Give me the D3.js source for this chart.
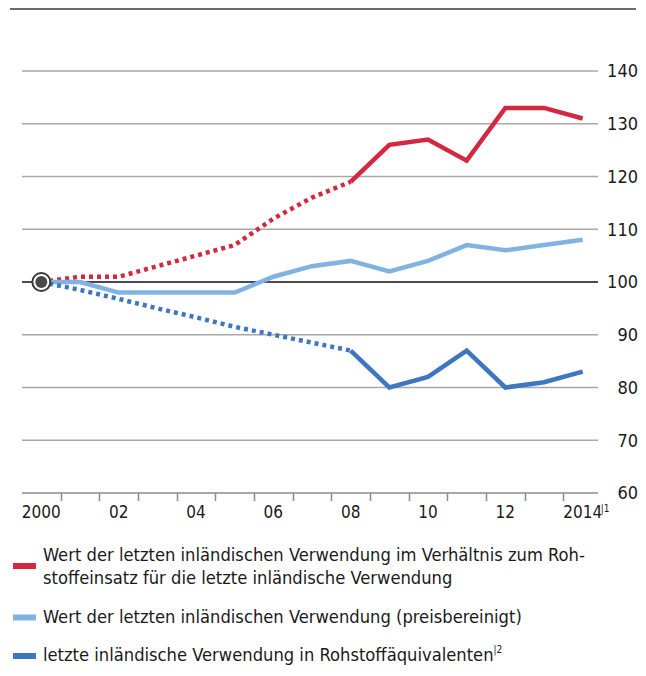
<!DOCTYPE html>
<html>
<head>
<meta charset="utf-8">
<script src="https://cdn.jsdelivr.net/npm/d3@7"></script>
<style>
  body { margin: 0; background: #fff; }
  svg { display: block; font-family: "DejaVu Sans Condensed", "DejaVu Sans", sans-serif; }
</style>
</head>
<body>
<div id="chart"></div>
<script>
// years 2000..2014
const years = d3.range(2000, 2015);
const xLabels = ["2000", "", "02", "", "04", "", "06", "", "08", "", "10", "", "12", "", "2014"];
const yTicks = [60, 70, 80, 90, 100, 110, 120, 130, 140];

// Wert der letzten inländischen Verwendung im Verhältnis zum Rohstoffeinsatz
const redValues = [100, 101, 101, 103, 105, 107, 112, 116, 119, 126, 127, 123, 133, 133, 131];
// Wert der letzten inländischen Verwendung (preisbereinigt)
const lightValues = [100, 100, 98, 98, 98, 98, 101, 103, 104, 102, 104, 107, 106, 107, 108];
// letzte inländische Verwendung in Rohstoffäquivalenten
const darkValues = [100, 98.5, 96.8, 95, 93.3, 91.5, 90, 88.5, 87, 80, 82, 87, 80, 81, 83];

const dottedUntil = 2008; // estimated years drawn dotted

const legendItems = [
  { color: "#d3283f", lines: ["Wert der letzten inländischen Verwendung im Verhältnis zum Roh-", "stoffeinsatz für die letzte inländische Verwendung"] },
  { color: "#80b3e2", lines: ["Wert der letzten inländischen Verwendung (preisbereinigt)"] },
  { color: "#3e76c0", lines: ["letzte inländische Verwendung in Rohstoffäquivalenten"], note: "|2" }
];

const width = 646, height = 676;

const svg = d3.select("#chart").append("svg")
    .attr("width", width)
    .attr("height", height);

const x = d3.scaleBand().domain(years).range([22, 602]);
const y = d3.scaleLinear().domain([60, 140]).range([493, 71]);
const cx = d => x(d) + x.bandwidth() / 2;

// top rule
svg.append("line")
    .attr("x1", 10).attr("x2", 636)
    .attr("y1", 9).attr("y2", 9)
    .attr("stroke", "#6b6b6b").attr("stroke-width", 2);

// gridlines
svg.append("g").selectAll("line")
    .data(yTicks)
    .join("line")
    .attr("x1", 22).attr("x2", 598)
    .attr("y1", d => y(d)).attr("y2", d => y(d))
    .attr("stroke", d => d === 100 ? "#4a4a4a" : "#a8a8a8")
    .attr("stroke-width", d => d === 100 ? 2 : (d === 60 ? 2 : 1.5));

// y labels
svg.append("g").selectAll("text")
    .data(yTicks)
    .join("text")
    .attr("x", 638)
    .attr("y", d => y(d))
    .attr("dy", "0.36em")
    .attr("text-anchor", "end")
    .attr("font-size", 18)
    .attr("fill", "#1a1a1a")
    .text(d => d);

// x ticks between years
svg.append("g").selectAll("line")
    .data(years.slice(1))
    .join("line")
    .attr("x1", d => Math.round(x(d)) + 0.5).attr("x2", d => Math.round(x(d)) + 0.5)
    .attr("y1", y(60)).attr("y2", y(60) + 8)
    .attr("stroke", "#8a8a8a").attr("stroke-width", 1.5);

// x labels
svg.append("g").selectAll("text")
    .data(years)
    .join("text")
    .attr("x", d => cx(d))
    .attr("y", 518)
    .attr("text-anchor", "middle")
    .attr("font-size", 17)
    .attr("fill", "#1a1a1a")
    .text((d, i) => xLabels[i]);

svg.append("text")
    .attr("x", cx(2014) + 18)
    .attr("y", 512)
    .attr("font-size", 10)
    .attr("fill", "#1a1a1a")
    .text("|1");

// series
const series = [
  { values: redValues, color: legendItems[0].color, dotted: true },
  { values: lightValues, color: legendItems[1].color, dotted: false },
  { values: darkValues, color: legendItems[2].color, dotted: true }
];

const line = d3.line()
    .x(d => cx(d.year))
    .y(d => y(d.value));

const linesG = svg.append("g").attr("fill", "none");

series.forEach(s => {
  const pts = years.map((yr, i) => ({ year: yr, value: s.values[i] }));
  if (s.dotted) {
    linesG.append("path")
        .attr("d", line(pts.filter(p => p.year <= dottedUntil)))
        .attr("stroke", s.color)
        .attr("stroke-width", 4.5)
        .attr("stroke-dasharray", "4,4");
    linesG.append("path")
        .attr("d", line(pts.filter(p => p.year >= dottedUntil)))
        .attr("stroke", s.color)
        .attr("stroke-width", 4.5);
  } else {
    linesG.append("path")
        .attr("d", line(pts))
        .attr("stroke", s.color)
        .attr("stroke-width", 4.5);
  }
});

// base point marker
svg.append("circle")
    .attr("cx", cx(2000)).attr("cy", y(100))
    .attr("r", 9)
    .attr("fill", "#fff")
    .attr("stroke", "#3a3a3a")
    .attr("stroke-width", 2);
svg.append("circle")
    .attr("cx", cx(2000)).attr("cy", y(100))
    .attr("r", 6)
    .attr("fill", "#4a4a4a");

// legend
const legendBase = [561, 623, 661];
const swatchY = [566, 617.5, 656];
const lg = svg.append("g");
legendItems.forEach((item, i) => {
  lg.append("rect")
      .attr("x", 13).attr("y", swatchY[i] - 3)
      .attr("width", 23).attr("height", 6)
      .attr("fill", item.color);
  const t = lg.append("text")
      .attr("x", 43)
      .attr("y", legendBase[i])
      .attr("font-size", 18.2)
      .attr("fill", "#1a1a1a");
  item.lines.forEach((ln, j) => {
    t.append("tspan")
        .attr("x", 43)
        .attr("dy", j === 0 ? 0 : 23)
        .text(ln);
  });
  if (item.note) {
    t.append("tspan")
        .attr("font-size", 10)
        .attr("dy", -8)
        .text(item.note);
  }
});
</script>
</body>
</html>
